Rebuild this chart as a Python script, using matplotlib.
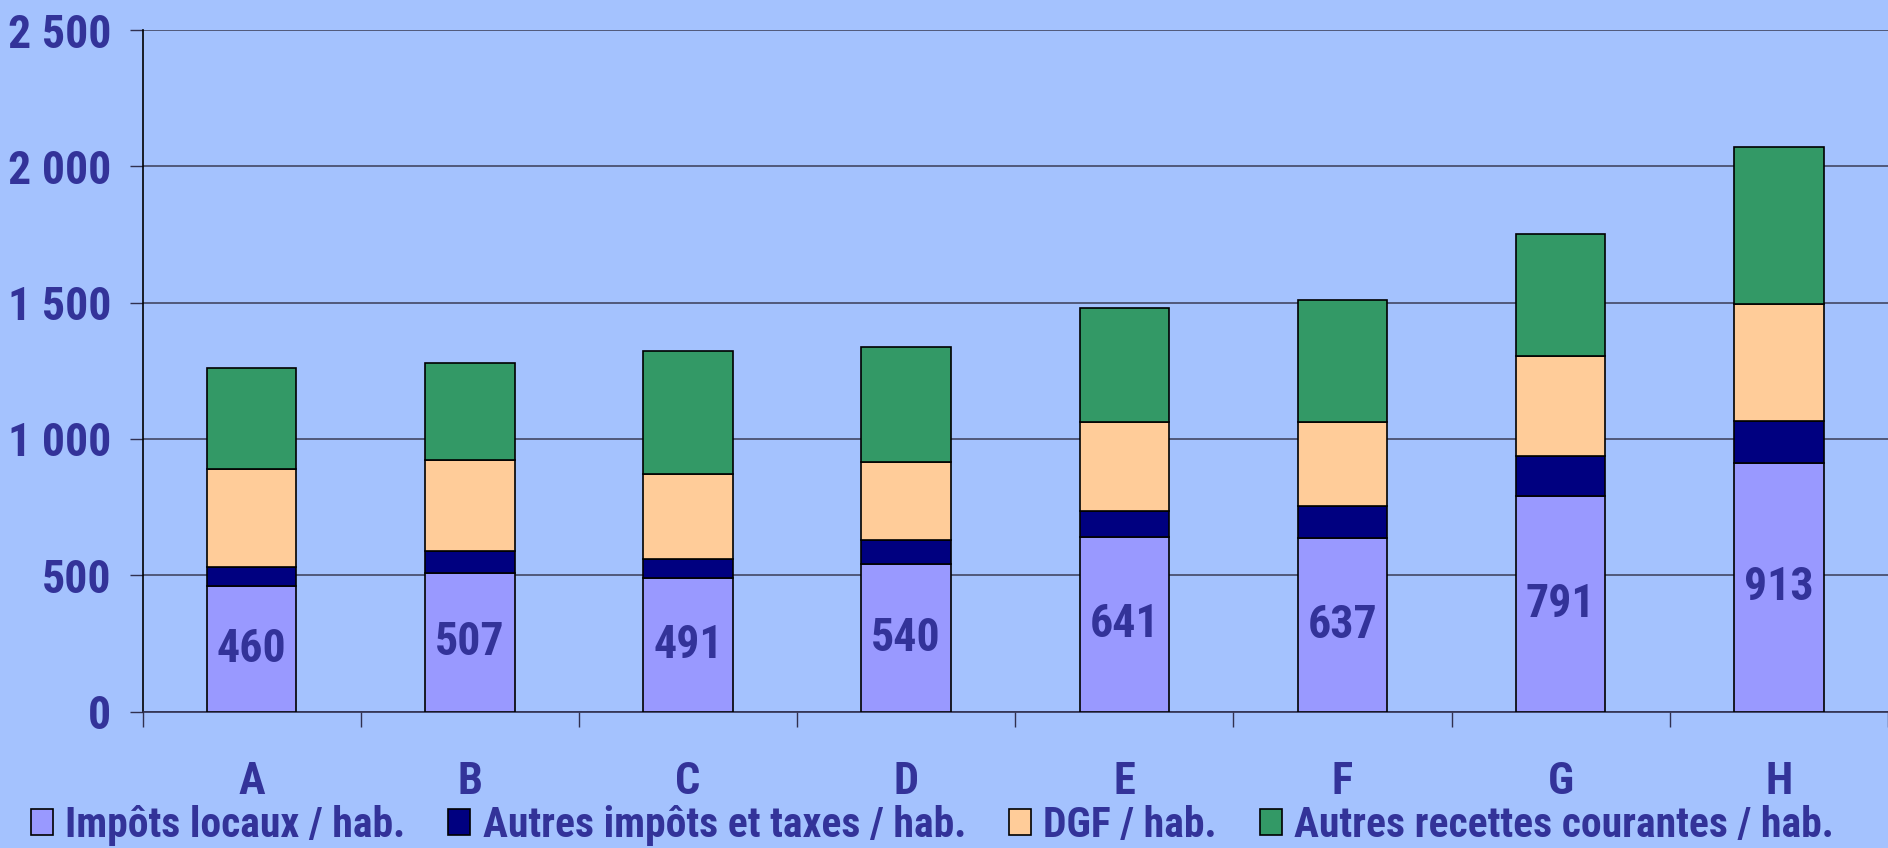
import numpy
import matplotlib.pyplot as plt
from matplotlib.patches import Patch

# categories and values per inhabitant
categories = ["A", "B", "C", "D", "E", "F", "G", "H"]
impots_locaux = [460, 507, 491, 540, 641, 637, 791, 913]
autres_impots = [69, 83, 69, 89, 93, 118, 146, 153]
dgf = [362, 331, 310, 285, 329, 308, 368, 430]
autres_recettes = [370, 356, 452, 423, 417, 448, 447, 574]

series_labels = ["Impôts locaux / hab.", "Autres impôts et taxes / hab.",
                 "DGF / hab.", "Autres recettes courantes / hab."]
series_colors = ["#9999FF", "#000080", "#FFCC99", "#339966"]
y_ticks = [0, 500, 1000, 1500, 2000, 2500]

text_color = "#333399"
back_color = "#A4C2FE"

# condensed bold font (the original looks like Arial Narrow bold)
plt.rcParams['font.family'] = ["Roboto Condensed", "Liberation Sans", "DejaVu Sans"]
plt.rcParams['font.weight'] = 'bold'

fig = plt.figure(figsize=(18.88, 8.48), dpi=100)
fig.patch.set_facecolor(back_color)
ax = fig.add_axes([142.5 / 1888, 1 - 711.5 / 848, 1 - 142.5 / 1888, (711.5 - 30) / 848])
ax.set_facecolor(back_color)

x = numpy.arange(len(categories))
szerokosc = 0.41
dane = [impots_locaux, autres_impots, dgf, autres_recettes]
spod = numpy.zeros(len(categories))
for wartosci, kolor, etykieta in zip(dane, series_colors, series_labels):
    ax.bar(x, wartosci, szerokosc, bottom=spod, color=kolor, edgecolor="black",
           linewidth=1.2, label=etykieta, zorder=3)
    spod = spod + numpy.array(wartosci)

# labels inside the first segment
for xi, v in zip(x, impots_locaux):
    ax.text(xi, v / 2, str(v), ha="center", va="center", fontsize=33,
            color=text_color, fontweight="bold", zorder=4)

# axes, grid, ticks
ax.set_xlim(-0.5, len(categories) - 0.5)
ax.set_ylim(0, 2500)
ax.set_yticks(y_ticks)
ax.set_yticklabels(["{:,}".format(t).replace(",", " ") for t in y_ticks])
ax.yaxis.grid(True, color="#4A5070", linewidth=1.3, zorder=0)
ax.set_axisbelow(True)
ax.tick_params(axis="y", length=9.5, width=1.0, pad=13, labelsize=33,
               labelcolor=text_color, color="#303050")

ax.set_xticks(x)
ax.set_xticklabels(categories)
ax.set_xticks(numpy.arange(-0.5, len(categories)), minor=True)
ax.tick_params(axis="x", which="major", length=0, pad=36, labelsize=32,
               labelcolor=text_color)
ax.tick_params(axis="x", which="minor", length=11, width=1.0, color="#303050")

for s in ["top", "right"]:
    ax.spines[s].set_visible(False)
ax.spines["left"].set_color("black")
ax.spines["left"].set_linewidth(1.2)
ax.spines["bottom"].set_color("#303050")
ax.spines["bottom"].set_linewidth(1.2)

# legend along the bottom
uchwyty = [Patch(facecolor=c, edgecolor="black", linewidth=1.2) for c in series_colors]
leg = fig.legend(uchwyty, series_labels, loc="center left",
                 bbox_to_anchor=(31 / 1888, 1 - 825 / 848), ncol=4, frameon=False,
                 fontsize=30, handlelength=0.53, handleheight=0.58,
                 handletextpad=0.29, columnspacing=1.03, borderpad=0,
                 borderaxespad=0)
for t in leg.get_texts():
    t.set_color(text_color)
    t.set_fontweight("bold")

fig.savefig("out.png", dpi=100, facecolor=back_color)
